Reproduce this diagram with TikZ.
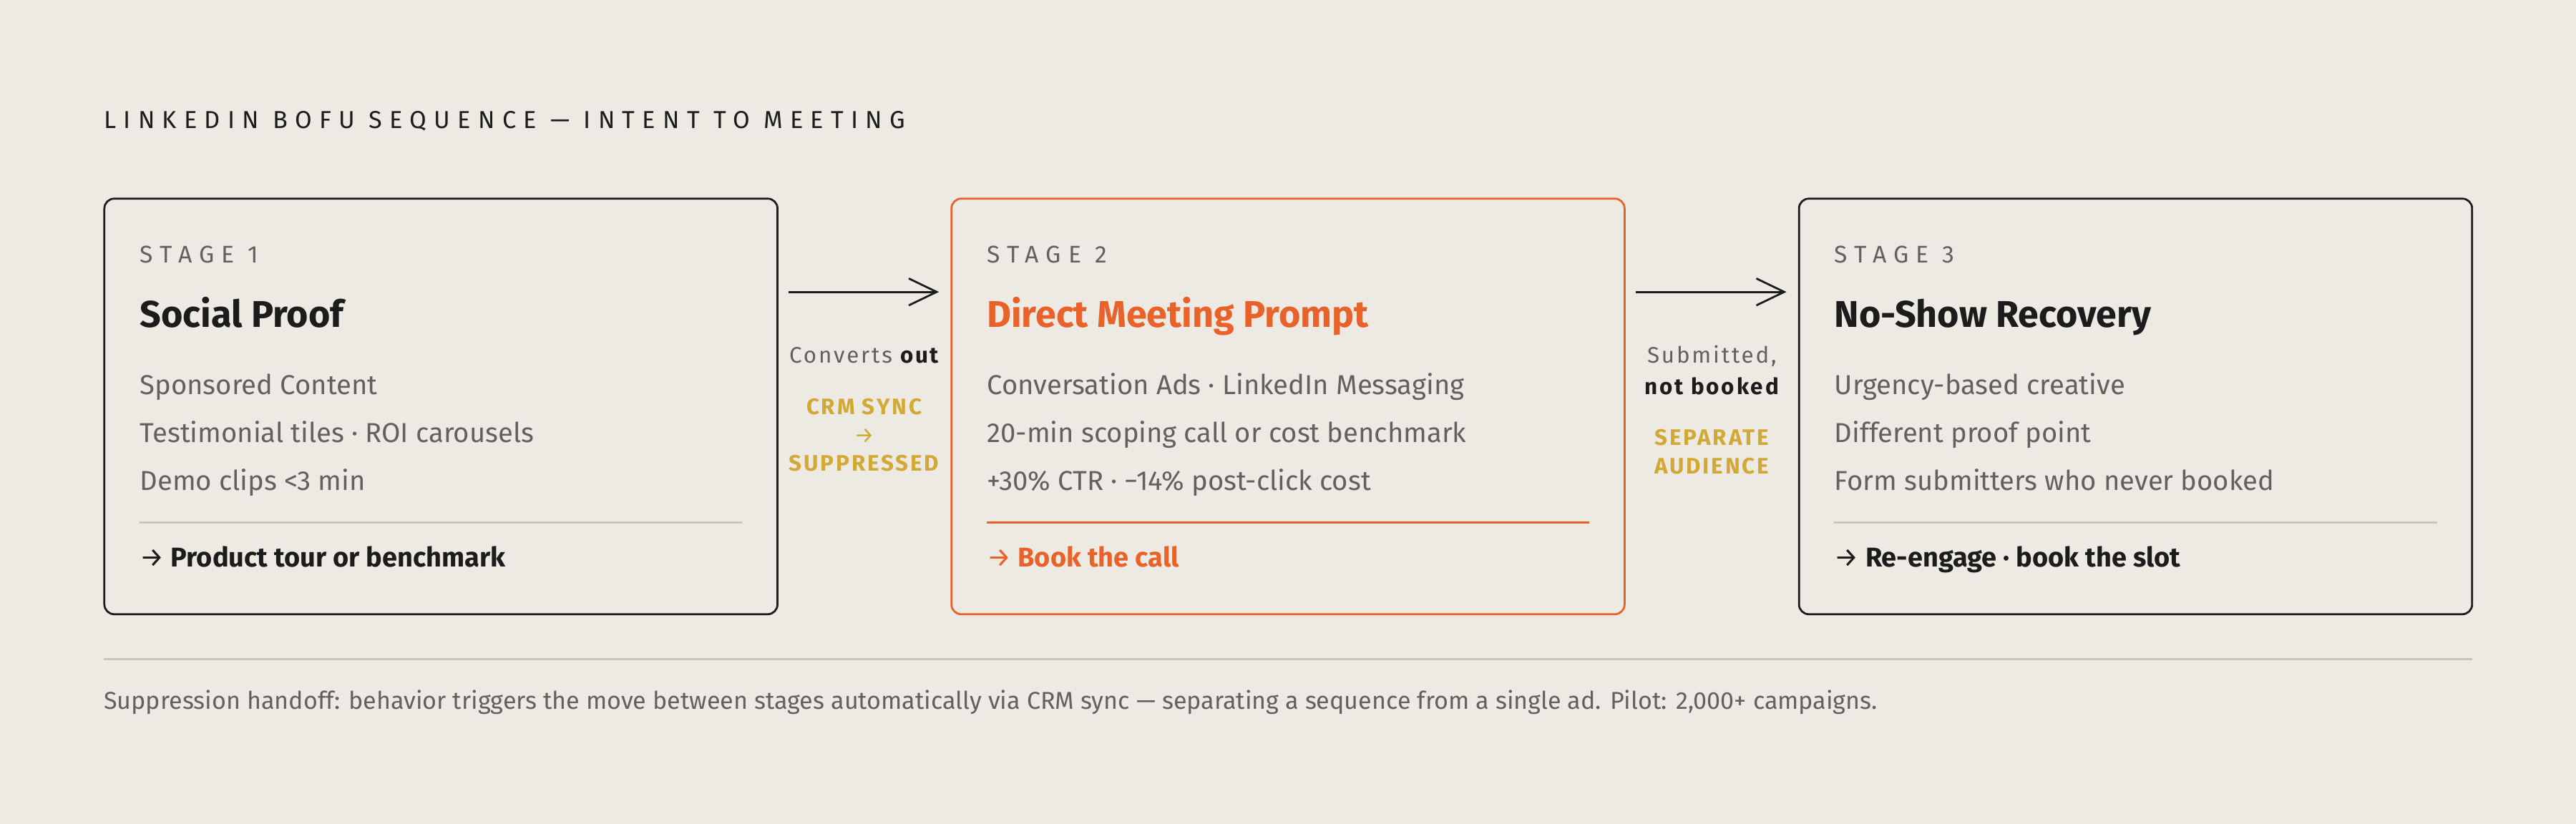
\documentclass[tikz,border=0pt]{standalone}
\usepackage{fontspec}
\setmainfont{Fira Sans}
\newfontfamily\trackfont[LetterSpace=30]{Fira Sans}
\newfontfamily\gapfont[LetterSpace=9]{Fira Sans}
\usetikzlibrary{arrows.meta}

\definecolor{paper}{HTML}{EDEAE3}
\definecolor{ink}{HTML}{1C1C1C}
\definecolor{muted}{HTML}{63615D}
\definecolor{accent}{HTML}{E8622A}
\definecolor{gold}{HTML}{D3A935}
\definecolor{rulegray}{HTML}{C9C5BD}

\tikzset{
  stagebox/.style={rectangle, rounded corners=4.5pt, line width=0.9pt, minimum width=307.3pt, minimum height=189.8pt, inner sep=0pt},
  txt/.style={anchor=base west, inner sep=0pt},
  tag/.style={txt, text=muted, font=\trackfont\fontsize{11}{13}\selectfont},
  headline/.style={txt, font=\bfseries\fontsize{17}{20}\selectfont},
  item/.style={txt, text=muted, font=\fontsize{12.5}{15}\selectfont},
  action/.style={txt, font=\bfseries\fontsize{12.4}{15}\selectfont},
  sepline/.style={line width=0.9pt},
  gaptext/.style={anchor=base, inner sep=0pt, align=center, font=\gapfont\fontsize{10.25}{14.25}\selectfont},
  goldtext/.style={anchor=base, inner sep=0pt, align=center, text=gold, font=\gapfont\bfseries\fontsize{10.25}{13}\selectfont},
  flow/.style={line width=0.9pt, draw=ink, -{Straight Barb[length=12.75pt, width=12.3pt]}}
}

\begin{document}
\begin{tikzpicture}[x=0.75pt, y=-0.75pt]
\useasboundingbox[fill=paper] (0,0) rectangle (1568,501.76);

% heading
\node[txt, text=ink, font=\trackfont\fontsize{11.2}{13}\selectfont] (head) at (63,78) {LINKEDIN BOFU SEQUENCE — INTENT TO MEETING};

% the three stages
\node[stagebox, draw=ink] (s1) at (268.4,247.5) {};
\node[stagebox, draw=accent] (s2) at (784,247.5) {};
\node[stagebox, draw=ink] (s3) at (1299.9,247.5) {};

% stage 1
\node[tag] (s1tag) at ([shift={(22,39.5)}]s1.north west) {STAGE 1};
\node[headline, text=ink] (s1head) at ([shift={(22,79)}]s1.north west) {Social Proof};
\node[item] (s1a) at ([shift={(22,120)}]s1.north west) {Sponsored Content};
\node[item] (s1b) at ([shift={(22,149)}]s1.north west) {Testimonial tiles · ROI carousels};
\node[item] (s1c) at ([shift={(22,178)}]s1.north west) {Demo clips <3 min};
\draw[sepline, rulegray] ([shift={(22,197.7)}]s1.north west) -- ([shift={(-22,197.7)}]s1.north east);
\node[action, text=ink] (s1go) at ([shift={(22,225)}]s1.north west) {{\mdseries →} Product tour or benchmark};

% stage 2
\node[tag] (s2tag) at ([shift={(22,39.5)}]s2.north west) {STAGE 2};
\node[headline, text=accent] (s2head) at ([shift={(22,79)}]s2.north west) {Direct Meeting Prompt};
\node[item] (s2a) at ([shift={(22,120)}]s2.north west) {Conversation Ads · LinkedIn Messaging};
\node[item] (s2b) at ([shift={(22,149)}]s2.north west) {20-min scoping call or cost benchmark};
\node[item] (s2c) at ([shift={(22,178)}]s2.north west) {+30\% CTR · −14\% post-click cost};
\draw[sepline, accent] ([shift={(22,197.7)}]s2.north west) -- ([shift={(-22,197.7)}]s2.north east);
\node[action, text=accent] (s2go) at ([shift={(22,225)}]s2.north west) {{\mdseries →} Book the call};

% stage 3
\node[tag] (s3tag) at ([shift={(22,39.5)}]s3.north west) {STAGE 3};
\node[headline, text=ink] (s3head) at ([shift={(22,79)}]s3.north west) {No-Show Recovery};
\node[item] (s3a) at ([shift={(22,120)}]s3.north west) {Urgency-based creative};
\node[item] (s3b) at ([shift={(22,149)}]s3.north west) {Different proof point};
\node[item] (s3c) at ([shift={(22,178)}]s3.north west) {Form submitters who never booked};
\draw[sepline, rulegray] ([shift={(22,197.7)}]s3.north west) -- ([shift={(-22,197.7)}]s3.north east);
\node[action, text=ink] (s3go) at ([shift={(22,225)}]s3.north west) {{\mdseries →} Re-engage · book the slot};

% handoffs (multi-line nodes sit on their last baseline)
\draw[flow] ([shift={(6,57.4)}]s1.north east) -- ([shift={(-7,57.4)}]s2.north west);
\draw[flow] ([shift={(6,57.4)}]s2.north east) -- ([shift={(-7,57.4)}]s3.north west);

\node[gaptext, text=muted] (g1) at (526,221) {Converts \textcolor{ink}{\bfseries out}};
\node[goldtext] (g1sync) at (526,287) {CRM SYNC\\{\mdseries →}\\SUPPRESSED};

\node[gaptext, text=muted] (g2) at (1042,240) {Submitted,\\\textcolor{ink}{\bfseries not booked}};
\node[goldtext] (g2aud) at (1042,288.6) {SEPARATE\\AUDIENCE};

% footnote
\coordinate (footL) at (63,401.4);
\coordinate (footR) at (1505,401.4);
\draw[sepline, rulegray] (footL) -- (footR);
\node[txt, text=muted, font=\fontsize{11.15}{13}\selectfont] (note) at (63,432) {Suppression handoff: behavior triggers the move between stages automatically via CRM sync — separating a sequence from a single ad. Pilot: 2,000+ campaigns.};
\end{tikzpicture}
\end{document}
